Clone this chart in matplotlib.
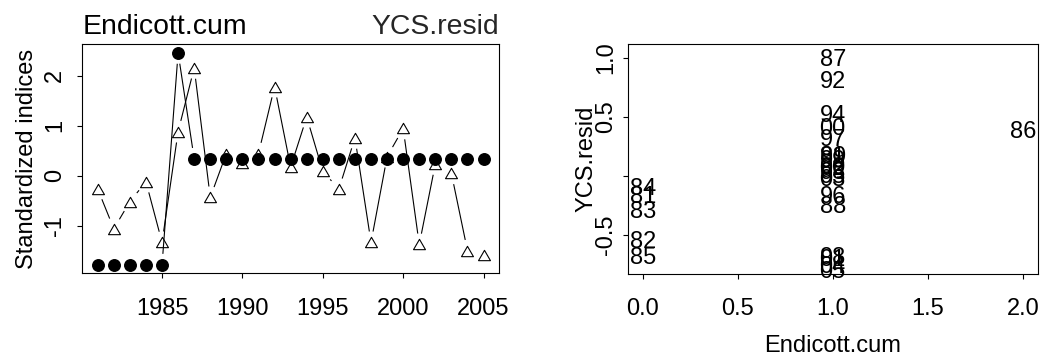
import numpy as np
import matplotlib
matplotlib.use('Agg')
from matplotlib import pyplot as plt
from matplotlib.path import Path
from matplotlib.collections import LineCollection

years = list(range(1981, 2006))
endicott_cum = [0, 0, 0, 0, 0, 2, 1, 1, 1, 1, 1, 1, 1,
                1, 1, 1, 1, 1, 1, 1, 1, 1, 1, 1, 1]
ycs_resid = [-0.16, -0.54, -0.28, -0.09, -0.67, 0.39, 1.00, -0.24, 0.18,
             0.09, 0.18, 0.82, 0.05, 0.53, 0.01, -0.16, 0.33, -0.67, 0.15,
             0.42, -0.69, 0.08, -0.01, -0.75, -0.79]
year_labels = ['%02d' % (y % 100) for y in years]

left_yticks = [-1, 0, 1, 2]
left_xticks = [1985, 1990, 1995, 2000, 2005]
right_xticks = [0.0, 0.5, 1.0, 1.5, 2.0]
right_yticks = [-0.5, 0.0, 0.5, 1.0]
right_yticklabels = ['-0.5', '', '0.5', '1.0']

plt.rcParams['font.family'] = ['Liberation Sans', 'DejaVu Sans']
plt.rcParams['font.size'] = 17
plt.rcParams['axes.unicode_minus'] = False

W, H = 1050, 356
fig = plt.figure(figsize=(10.5, 3.56), dpi=100)


def px_axes(l, t, r, b):
    return fig.add_axes([l / W, 1 - b / H, (r - l) / W, (b - t) / H])


def rng4(v):
    lo, hi = min(v), max(v)
    d = (hi - lo) * 0.04
    return lo - d, hi + d


def standardize(v):
    v = np.array(v, dtype=float)
    return (v - v.mean()) / v.std(ddof=1)


def type_b(ax, x, y, gap=11, **kw):
    # R style type="b": line segments with gaps around the points
    pts = ax.transData.transform(np.column_stack([x, y]))
    inv = ax.transData.inverted()
    segs = []
    for p0, p1 in zip(pts[:-1], pts[1:]):
        d = p1 - p0
        L = np.hypot(d[0], d[1])
        if L <= 2 * gap:
            continue
        u = d / L
        segs.append(inv.transform([p0 + u * gap, p1 - u * gap]))
    ax.add_collection(LineCollection(segs, **kw))


def style(ax, ypad):
    for s in ax.spines.values():
        s.set_linewidth(0.8)
    ax.tick_params(direction='out', length=3.8, width=0.8, color='black')
    ax.tick_params(axis='x', pad=14)
    ax.tick_params(axis='y', pad=ypad, labelrotation=90)
    for lab in ax.get_yticklabels():
        lab.set_va('center')


tri = Path([(0, 0.433), (-0.5, -0.433), (0.5, -0.433), (0, 0.433)],
           [Path.MOVETO, Path.LINETO, Path.LINETO, Path.CLOSEPOLY])

# left panel: standardized indices
ax1 = px_axes(82.3, 44.3, 499, 273.3)
z_end = standardize(endicott_cum)
z_ycs = standardize(ycs_resid)
ax1.set_xlim(rng4(years))
ax1.set_ylim(rng4(list(z_end) + list(z_ycs)))
type_b(ax1, years, z_end, color='black', linewidth=0.8)
type_b(ax1, years, z_ycs, color='black', linewidth=0.8)
ax1.plot(years, z_end, 'o', color='black', markersize=8.3, linestyle='none')
ax1.plot(years, z_ycs, marker=tri, markersize=8.6, markerfacecolor='none',
         markeredgecolor='black', markeredgewidth=0.8, linestyle='none')
ax1.set_xticks(left_xticks)
ax1.set_yticks(left_yticks)
ax1.set_ylabel('Standardized indices')
ax1.yaxis.set_label_coords(-0.106, 0.5)
style(ax1, 8)
ax1.text(0, 1 + 10 / 229, 'Endicott.cum', transform=ax1.transAxes,
         ha='left', va='baseline', fontsize=20.4)
ax1.text(1, 1 + 10 / 229, 'YCS.resid', transform=ax1.transAxes,
         ha='right', va='baseline', fontsize=20.4, color='#262626')

# right panel: scatter of year labels
ax2 = px_axes(627.5, 44.3, 1038, 273.7)
ax2.set_xlim(rng4(endicott_cum))
ax2.set_ylim(-0.828, 1.116)
for xv, yv, lab in zip(endicott_cum, ycs_resid, year_labels):
    ax2.text(xv, yv, lab, ha='center', va='center_baseline', fontsize=17)
ax2.set_xticks(right_xticks)
ax2.set_xticklabels(['%.1f' % v for v in right_xticks])
ax2.set_yticks(right_yticks)
ax2.set_yticklabels(right_yticklabels)
ax2.set_xlabel('Endicott.cum')
ax2.set_ylabel('YCS.resid')
ax2.xaxis.set_label_coords(0.5, -0.267)
ax2.yaxis.set_label_coords(-0.072, 0.5)
style(ax2, 3.5)

fig.savefig('out.png', dpi=100)
